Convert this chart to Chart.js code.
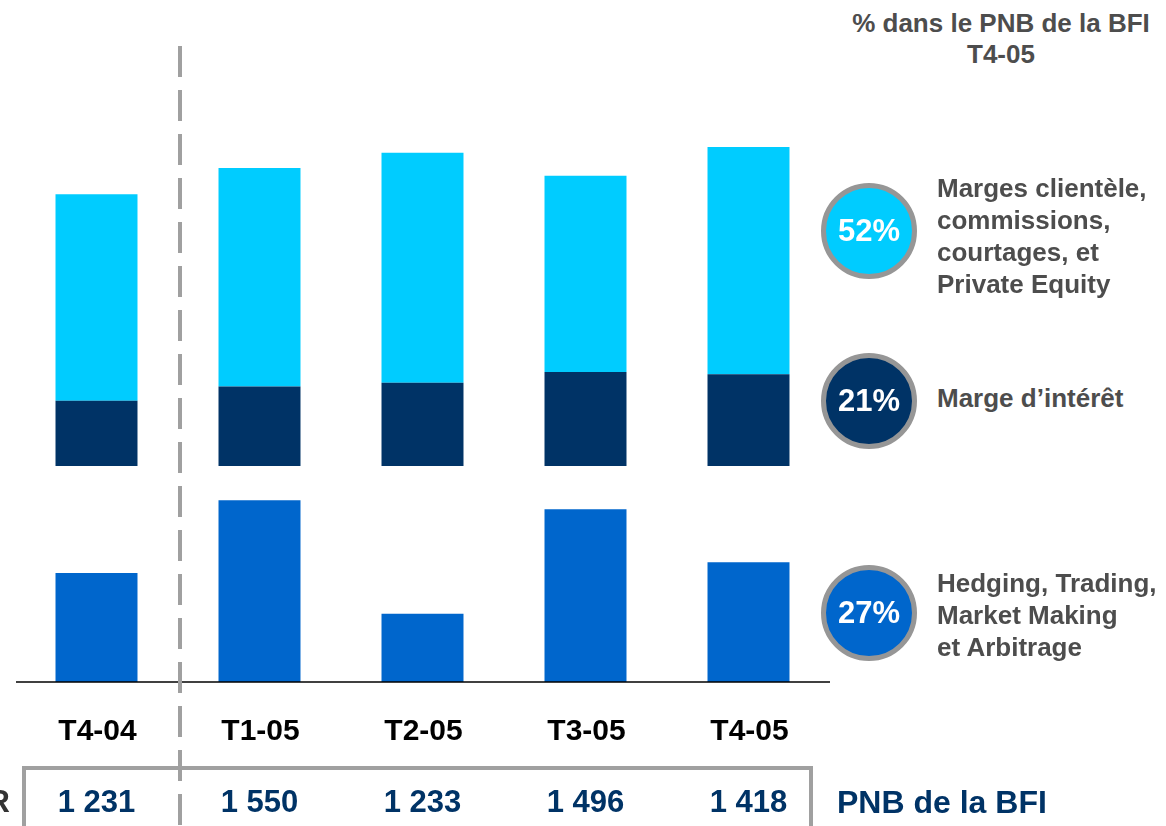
<!DOCTYPE html>
<html>
<head>
<meta charset="utf-8">
<script src="https://cdn.jsdelivr.net/npm/chart.js@4/dist/chart.umd.min.js"></script>
<style>
  html, body { margin: 0; padding: 0; background: #fff; overflow: hidden; }
  body { width: 1166px; height: 826px; position: relative; font-family: "Liberation Sans", Arial, sans-serif; font-weight: bold; }
  canvas { position: absolute; left: 0; }
  #topChart { top: 95px; }
  #bottomChart { top: 496px; }
  .abs { position: absolute; white-space: nowrap; }
  .title { left: 851px; top: 8px; width: 300px; text-align: center; font-size: 26px; line-height: 31px; color: #4d4d4d; }
  .label { left: 937px; font-size: 26px; line-height: 32px; color: #4d4d4d; }
  .bubble { left: 821px; width: 96px; height: 96px; box-sizing: border-box; border: 5px solid #969696; border-radius: 50%;
            display: flex; align-items: center; justify-content: center; color: #fff; font-size: 31px; }
  .box { left: 22px; top: 766px; width: 791px; height: 100px; box-sizing: border-box; border: 4px solid #a0a0a0; }
</style>
</head>
<body>
<canvas id="topChart" width="830" height="371"></canvas>
<canvas id="bottomChart" width="830" height="330"></canvas>

<div class="abs box"></div>
<div class="abs" style="right:1156px; top:786px; font-size:31px; line-height:31px; color:#333;">MEUR</div>
<div class="abs" style="left:837px; top:786px; font-size:32px; line-height:32px; color:#003366;">PNB de la BFI</div>

<div class="abs title">% dans le PNB de la BFI<br>T4-05</div>
<div id="legend"></div>

<svg class="abs" style="left:0; top:0;" width="1166" height="826">
  <line x1="180" y1="46" x2="180" y2="826" stroke="#a0a0a0" stroke-width="4" stroke-dasharray="31 13"/>
</svg>

<script>
// trimestres
const categories = ['T4-04', 'T1-05', 'T2-05', 'T3-05', 'T4-05']
// PNB de la BFI (M EUR)
const totals = ['1 231', '1 550', '1 233', '1 496', '1 418']

// series (M EUR)
const margeInteret = [211, 257, 269, 304, 297]
const margesClientele = [668, 707, 744, 635, 735]
const hedgingTrading = [352, 586, 220, 557, 386]

// shares of T4-05
const shareLabels = ['52%', '21%', '27%']
const shareTexts = [
  'Marges clientèle,<br>commissions,<br>courtages, et<br>Private Equity',
  'Marge d’intérêt',
  'Hedging, Trading,<br>Market Making<br>et Arbitrage',
]

const navy = '#003366'
const cyan = '#00CCFF'
const blue = '#0066CC'

// legend on the right (bubbles + texts)
const legend = document.getElementById('legend')
const bubbleTops = [183, 353, 565]
const labelTops = [172, 382, 567]
const bubbleColors = [cyan, navy, blue]
shareLabels.forEach((s, i) => {
  const b = document.createElement('div')
  b.className = 'abs bubble'
  b.style.top = bubbleTops[i] + 'px'
  b.style.background = bubbleColors[i]
  b.textContent = s
  legend.appendChild(b)
  const t = document.createElement('div')
  t.className = 'abs label'
  t.style.top = labelTops[i] + 'px'
  t.innerHTML = shareTexts[i]
  legend.appendChild(t)
})

const barOpts = {
  borderWidth: 0,
  barPercentage: 0.503,
  categoryPercentage: 1,
}

const baseOptions = (max, padBottom, stacked) => ({
  responsive: false,
  animation: false,
  layout: { padding: { left: 15, right: 0, top: 0, bottom: padBottom } },
  scales: {
    x: { display: false, stacked: stacked },
    y: { display: false, stacked: stacked, min: 0, max: max },
  },
  plugins: { legend: { display: false }, tooltip: { enabled: false } },
})

new Chart(document.getElementById('topChart'), {
  type: 'bar',
  data: {
    labels: categories,
    datasets: [
      { label: 'Marge d’intérêt', data: margeInteret, backgroundColor: navy, ...barOpts },
      { label: 'Marges clientèle', data: margesClientele, backgroundColor: cyan, ...barOpts },
    ],
  },
  options: baseOptions(1200, 0, true),
})

// axis line, category labels and the PNB row under the lower bars
const axisPlugin = {
  id: 'axisPlugin',
  afterDraw(chart) {
    const ctx = chart.ctx
    const x = chart.scales.x
    const y0 = chart.scales.y.getPixelForValue(0)
    ctx.save()
    ctx.strokeStyle = '#000'
    ctx.lineWidth = 1.5
    ctx.beginPath()
    ctx.moveTo(16, y0)
    ctx.lineTo(chart.chartArea.right, y0)
    ctx.stroke()
    ctx.textAlign = 'center'
    ctx.textBaseline = 'alphabetic'
    categories.forEach((c, i) => {
      const px = x.getPixelForValue(i)
      ctx.fillStyle = '#000'
      ctx.font = 'bold 30px "Liberation Sans", Arial, sans-serif'
      ctx.fillText(c, px + 1, y0 + 58)
      ctx.fillStyle = navy
      ctx.font = 'bold 31px "Liberation Sans", Arial, sans-serif'
      ctx.fillText(totals[i], px, y0 + 129.5)
    })
    ctx.restore()
  },
}

new Chart(document.getElementById('bottomChart'), {
  type: 'bar',
  data: {
    labels: categories,
    datasets: [
      { label: 'Hedging, Trading', data: hedgingTrading, backgroundColor: blue, ...barOpts },
    ],
  },
  options: baseOptions(600, 144, false),
  plugins: [axisPlugin],
})
</script>
</body>
</html>
